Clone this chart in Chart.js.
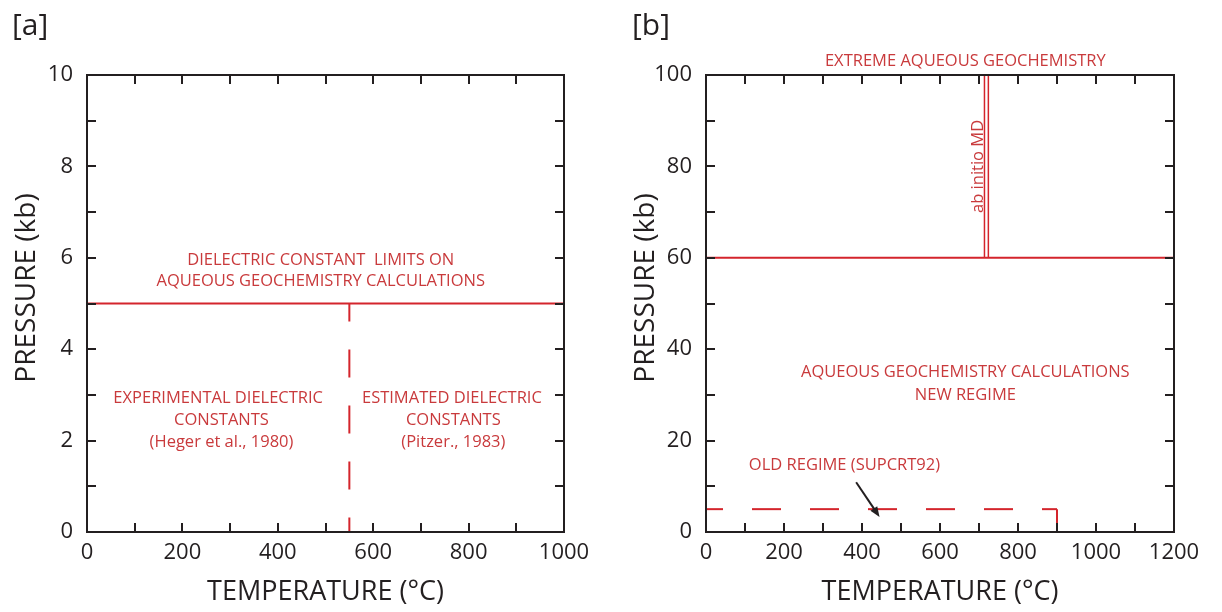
<!DOCTYPE html>
<html>
<head>
<meta charset="utf-8">
<title>Aqueous geochemistry regimes</title>
<script src="https://cdn.jsdelivr.net/npm/chart.js@4.4.1/dist/chart.umd.min.js"></script>
<style>
  body { margin: 0; background: #fff; }
  .panel { position: absolute; top: 0; width: 611px; height: 612px; }
</style>
</head>
<body>
<div class="panel" style="left:0"><canvas id="chartA"></canvas></div>
<div class="panel" style="left:611px"><canvas id="chartB"></canvas></div>
<script>
// panel [a]: dielectric constant limit (kb) and data boundary (°C)
const limitTempA = [0, 1000];
const limitPresA = [5, 5];
const boundaryTempA = [550, 550];
const boundaryPresA = [5, 0];

// panel [b]: new regime limit, ab initio MD, old SUPCRT92 regime
const limitTempB = [0, 1200];
const limitPresB = [60, 60];
const mdTempLeft = [714, 714];
const mdTempRight = [724, 724];
const mdPres = [60, 100];
const oldTemp = [0, 900];
const oldPres = [5, 5];
const oldEdgeTemp = [900, 900];
const oldEdgePres = [5, 0];

// axis ranges
const tempRangeA = [0, 1000];
const presRangeA = [0, 10];
const tempRangeB = [0, 1200];
const presRangeB = [0, 100];

const RED = '#d4252c';
const TEXT_RED = '#c93a3c';
const INK = '#231f20';
const FONT = '"Open Sans", sans-serif';

function pts(xs, ys) {
    return xs.map((x, i) => ({x: x, y: ys[i]}));
}

function line(xs, ys, opts) {
    return Object.assign({
        data: pts(xs, ys),
        borderColor: RED,
        borderWidth: 2,
        pointRadius: 0,
        fill: false,
        tension: 0
    }, opts || {});
}

// box frame with inward ticks on all four sides
const frameTicks = {
    id: 'frameTicks',
    afterDatasetsDraw(chart) {
        const {ctx, chartArea: a, scales: {x, y}} = chart;
        ctx.save();
        ctx.strokeStyle = INK;
        ctx.lineWidth = 2;
        ctx.beginPath();
        x.ticks.forEach(t => {
            const px = Math.round(x.getPixelForValue(t.value));
            ctx.moveTo(px, a.bottom); ctx.lineTo(px, a.bottom - 9);
            ctx.moveTo(px, a.top); ctx.lineTo(px, a.top + 9);
        });
        y.ticks.forEach(t => {
            const py = Math.round(y.getPixelForValue(t.value));
            ctx.moveTo(a.left, py); ctx.lineTo(a.left + 9, py);
            ctx.moveTo(a.right, py); ctx.lineTo(a.right - 9, py);
        });
        ctx.stroke();
        ctx.lineJoin = 'miter';
        ctx.strokeRect(a.left, a.top, a.right - a.left, a.bottom - a.top);
        ctx.restore();
    }
};

// text notes, axis titles, panel letter and arrow
const notes = {
    id: 'notes',
    afterDraw(chart, args, o) {
        const {ctx, chartArea: a, scales: {x, y}} = chart;
        ctx.save();
        ctx.textAlign = 'center';
        ctx.textBaseline = 'middle';

        ctx.fillStyle = TEXT_RED;
        ctx.font = '16.5px ' + FONT;
        (o.labels || []).forEach(l => {
            const px = x.getPixelForValue(l.t);
            const py = y.getPixelForValue(l.p);
            ctx.save();
            ctx.translate(px, py);
            if (l.rotate) ctx.rotate(-Math.PI / 2);
            ctx.fillText(l.text, 0, 0);
            ctx.restore();
        });

        if (o.arrow) {
            const [t0, p0, t1, p1] = o.arrow;
            const x0 = x.getPixelForValue(t0), y0 = y.getPixelForValue(p0);
            const x1 = x.getPixelForValue(t1), y1 = y.getPixelForValue(p1);
            const ang = Math.atan2(y1 - y0, x1 - x0);
            const head = 11;
            ctx.strokeStyle = INK;
            ctx.fillStyle = INK;
            ctx.lineWidth = 2;
            ctx.beginPath();
            ctx.moveTo(x0, y0);
            ctx.lineTo(x1 - head * 0.8 * Math.cos(ang), y1 - head * 0.8 * Math.sin(ang));
            ctx.stroke();
            ctx.beginPath();
            ctx.moveTo(x1, y1);
            ctx.lineTo(x1 - head * Math.cos(ang - 0.38), y1 - head * Math.sin(ang - 0.38));
            ctx.lineTo(x1 - head * Math.cos(ang + 0.38), y1 - head * Math.sin(ang + 0.38));
            ctx.closePath();
            ctx.fill();
        }

        ctx.fillStyle = INK;
        ctx.font = '27px ' + FONT;
        ctx.fillText('TEMPERATURE (°C)', (a.left + a.right) / 2, o.xTitleY);
        ctx.font = '28px ' + FONT;
        ctx.save();
        ctx.translate(o.yTitleX, o.yTitleY);
        ctx.rotate(-Math.PI / 2);
        ctx.fillText('PRESSURE (kb)', 0, 0);
        ctx.restore();

        ctx.font = '30px ' + FONT;
        ctx.textAlign = 'left';
        ctx.fillText(o.panel, o.panelX, 26);
        ctx.restore();
    }
};

function makeConfig(datasets, tRange, pRange, tStep, pStep, yWidth, padRight, noteOpts) {
    return {
        type: 'line',
        data: {datasets: datasets},
        plugins: [frameTicks, notes],
        options: {
            responsive: true,
            maintainAspectRatio: false,
            animation: false,
            layout: {padding: {top: 75, right: padRight, left: 0, bottom: 0}},
            plugins: {
                legend: {display: false},
                tooltip: {enabled: false},
                notes: noteOpts
            },
            scales: {
                x: {
                    type: 'linear',
                    min: tRange[0], max: tRange[1],
                    grid: {display: false, drawTicks: false},
                    border: {display: false},
                    afterFit: s => { s.height = 80; },
                    ticks: {
                        stepSize: tStep,
                        autoSkip: false,
                        maxRotation: 0,
                        padding: 8,
                        color: INK,
                        font: {family: FONT, size: 22},
                        callback: v => (v % (tStep * 2) === 0 ? v : '')
                    }
                },
                y: {
                    type: 'linear',
                    min: pRange[0], max: pRange[1],
                    grid: {display: false, drawTicks: false},
                    border: {display: false},
                    afterFit: s => { s.width = yWidth; },
                    ticks: {
                        stepSize: pStep,
                        autoSkip: false,
                        padding: 14,
                        color: INK,
                        font: {family: FONT, size: 22},
                        callback: v => (v % (pStep * 2) === 0 ? v : '')
                    }
                }
            }
        }
    };
}

new Chart(document.getElementById('chartA'), makeConfig([
    line(limitTempA, limitPresA),
    line(boundaryTempA, boundaryPresA, {borderDash: [28, 28], borderDashOffset: 10})
], tempRangeA, presRangeA, 100, 1, 87, 47, {
    panel: '[a]', panelX: 12,
    xTitleY: 592, yTitleX: 27, yTitleY: 288,
    labels: [
        {text: 'DIELECTRIC CONSTANT  LIMITS ON', t: 490, p: 5.95},
        {text: 'AQUEOUS GEOCHEMISTRY CALCULATIONS', t: 490, p: 5.49},
        {text: 'EXPERIMENTAL DIELECTRIC', t: 275, p: 2.93},
        {text: 'CONSTANTS', t: 282, p: 2.45},
        {text: '(Heger et al., 1980)', t: 282, p: 1.97},
        {text: 'ESTIMATED DIELECTRIC', t: 765, p: 2.93},
        {text: 'CONSTANTS', t: 768, p: 2.45},
        {text: '(Pitzer., 1983)', t: 768, p: 1.97}
    ]
}));

new Chart(document.getElementById('chartB'), makeConfig([
    line(limitTempB, limitPresB),
    line(mdTempLeft, mdPres, {borderWidth: 1.5}),
    line(mdTempRight, mdPres, {borderWidth: 1.5}),
    line(oldTemp, oldPres, {borderDash: [29, 29], borderDashOffset: 12}),
    line(oldEdgeTemp, oldEdgePres)
], tempRangeB, presRangeB, 100, 10, 95, 48, {
    panel: '[b]', panelX: 21,
    xTitleY: 592, yTitleX: 35, yTitleY: 288,
    labels: [
        {text: 'EXTREME AQUEOUS GEOCHEMISTRY', t: 665, p: 103},
        {text: 'ab initio MD', t: 697, p: 80, rotate: true},
        {text: 'AQUEOUS GEOCHEMISTRY CALCULATIONS', t: 665, p: 35},
        {text: 'NEW REGIME', t: 665, p: 30},
        {text: 'OLD REGIME (SUPCRT92)', t: 355, p: 14.7}
    ],
    arrow: [385, 10.9, 445, 3.3]
}));
</script>
</body>
</html>
